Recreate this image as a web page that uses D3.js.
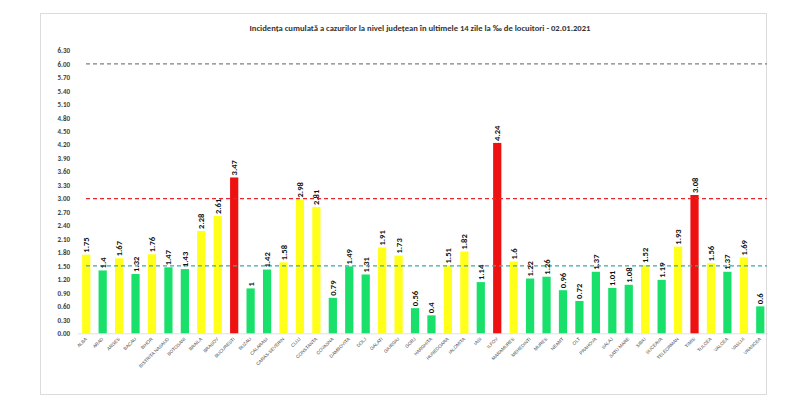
<!DOCTYPE html>
<html>
<head>
<meta charset="utf-8">
<script src="https://cdn.jsdelivr.net/npm/d3@7"></script>
<style>
  html, body { margin: 0; padding: 0; background: #fff; }
  svg { display: block; font-family: Calibri, Carlito, "Liberation Sans", "Open Sans", sans-serif; }
</style>
</head>
<body>
<svg id="chart" width="800" height="413"></svg>
<script>
const titleText = "Incidența cumulată a cazurilor la nivel județean în ultimele 14 zile la ‰ de locuitori - 02.01.2021";
const counties = ["ALBA","ARAD","ARGES","BACAU","BIHOR","BISTRITA NASAUD","BOTOSANI","BRAILA","BRASOV","BUCURESTI",
  "BUZAU","CALARASI","CARAS-SEVERIN","CLUJ","CONSTANTA","COVASNA","DAMBOVITA","DOLJ","GALATI","GIURGIU",
  "GORJ","HARGHITA","HUNEDOARA","IALOMITA","IASI","ILFOV","MARAMURES","MEHEDINTI","MURES","NEAMT",
  "OLT","PRAHOVA","SALAJ","SATU MARE","SIBIU","SUCEAVA","TELEORMAN","TIMIS","TULCEA","VALCEA","VASLUI","VRANCEA"];
const incidence = [1.75,1.4,1.67,1.32,1.76,1.47,1.43,2.28,2.61,3.47,
  1,1.42,1.58,2.98,2.81,0.79,1.49,1.31,1.91,1.73,
  0.56,0.4,1.51,1.82,1.14,4.24,1.6,1.22,1.26,0.96,
  0.72,1.37,1.01,1.08,1.52,1.19,1.93,3.08,1.56,1.37,1.69,0.6];
const yTicks = [0,0.3,0.6,0.9,1.2,1.5,1.8,2.1,2.4,2.7,3.0,3.3,3.6,3.9,4.2,4.5,4.8,5.1,5.4,5.7,6.0,6.3];
const thresholds = [6.0, 3.0, 1.5];
const thresholdColors = ["#808080", "#e8262b", "#3fa8a8"];

const svg = d3.select("#chart");

// frame
svg.append("rect").attr("x", 40.5).attr("y", 13.5).attr("width", 726).attr("height", 381)
  .attr("fill", "#fff").attr("stroke", "#dcdcdc").attr("stroke-width", 1);

// title
svg.append("text").attr("x", 420).attr("y", 31).attr("text-anchor", "middle")
  .attr("font-size", 8.6).attr("font-weight", "bold").attr("fill", "#333")
  .text(titleText);

const x = d3.scaleBand().domain(counties).range([78, 768.5]).paddingInner(0.5).paddingOuter(0.25);
const y = d3.scaleLinear().domain([0, 6.3]).range([333.3, 50.4]);

function colorFor(v) {
  if (v >= 3) return "#ee1111";
  if (v > 1.5) return "#ffff1a";
  return "#19e06a";
}

// y axis
const yAxis = d3.axisLeft(y).tickValues(yTicks).tickFormat(d3.format(".2f")).tickSize(0).tickPadding(0);
const ya = svg.append("g").attr("transform", "translate(70,0)").call(yAxis);
ya.select(".domain").remove();
ya.selectAll("text").attr("font-size", 7).attr("font-weight", "bold").attr("fill", "#404040")
  .attr("font-family", "Calibri, Carlito, 'Liberation Sans', sans-serif");

// baseline
svg.append("line").attr("x1", 78).attr("x2", 768).attr("y1", y(0) + 0.5).attr("y2", y(0) + 0.5)
  .attr("stroke", "#d9d9d9").attr("stroke-width", 0.8);

// bars
svg.append("g").selectAll("rect").data(counties).join("rect")
  .attr("x", d => x(d))
  .attr("width", x.bandwidth())
  .attr("y", (d, i) => y(incidence[i]))
  .attr("height", (d, i) => y(0) - y(incidence[i]))
  .attr("fill", (d, i) => colorFor(incidence[i]));

// threshold lines
svg.append("g").selectAll("line").data(thresholds).join("line")
  .attr("x1", 86).attr("x2", 767)
  .attr("y1", d => y(d)).attr("y2", d => y(d))
  .attr("stroke", (d, i) => thresholdColors[i])
  .attr("stroke-width", 1.3)
  .attr("stroke-dasharray", "4,3");

// value labels
svg.append("g").selectAll("text").data(counties).join("text")
  .attr("transform", (d, i) => `translate(${x(d) + x.bandwidth() / 2 + 3},${y(incidence[i]) - 2}) rotate(-90)`)
  .attr("font-size", 8.6).attr("font-weight", "bold").attr("fill", "#111")
  .text((d, i) => String(incidence[i]));

// x labels
const xAxis = d3.axisBottom(x).tickSize(0).tickPadding(0);
const xa = svg.append("g").attr("transform", `translate(0,${y(0)})`).call(xAxis);
xa.select(".domain").remove();
xa.selectAll("text")
  .attr("text-anchor", "end")
  .attr("dy", null).attr("y", 0)
  .attr("transform", "translate(1,6) rotate(-45)")
  .attr("font-size", 4.6).attr("fill", "#444")
  .attr("font-family", "'Liberation Sans', Arial, sans-serif");
</script>
</body>
</html>
